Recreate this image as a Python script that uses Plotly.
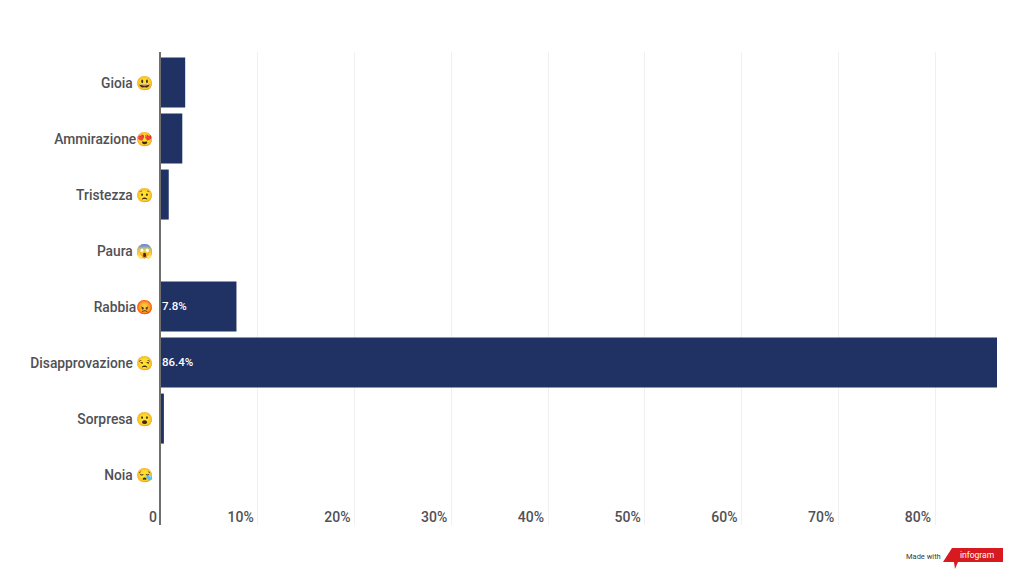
import plotly.graph_objects as go

categories = ["Gioia 😃", "Ammirazione😍", "Tristezza 😟", "Paura 😱",
              "Rabbia😡", "Disapprovazione 😒", "Sorpresa 😮", "Noia 😪"]
values = [2.5, 2.2, 0.8, 0.0, 7.8, 86.4, 0.3, 0.0]
labels = ["", "", "", "", "7.8%", "86.4%", "", ""]
tick_vals = [10, 20, 30, 40, 50, 60, 70, 80]
tick_text = ["10%", "20%", "30%", "40%", "50%", "60%", "70%", "80%"]

W, H = 1024, 577
L, R, T, B = 161, 997, 52, 525


def px(x):
    return (x - L) / (R - L)


def py(y):
    return (B - y) / (B - T)


GREY = "#505055"
fig = go.Figure(go.Bar(
    y=categories, x=values, orientation="h", width=0.893,
    marker=dict(color="#203164", line_width=0),
))
fig.update_layout(
    width=W, height=H, autosize=False,
    paper_bgcolor="#ffffff", plot_bgcolor="#ffffff",
    margin=dict(l=L, r=W - R, t=T, b=H - B),
    showlegend=False,
    font=dict(family="Roboto", color=GREY),
)
fig.update_xaxes(
    range=[0, 86.4], tickvals=tick_vals, ticktext=tick_text,
    ticklabelposition="inside left", ticklabelshift=-4, ticklabelstandoff=-6,
    tickfont=dict(family="Roboto", size=14, color=GREY, weight=500),
    showgrid=True, gridcolor="#f0f0f0", gridwidth=1, zeroline=False,
    showline=False, ticks="",
)
fig.update_yaxes(
    type="category", categoryorder="array", categoryarray=categories,
    range=[7.9, -0.545],
    ticklabelstandoff=3, ticklabelshift=-1,
    tickfont=dict(family="Roboto", size=13.8, color=GREY, weight=500),
    showline=True, linecolor="#6f6f6f", linewidth=2, ticks="", ticklen=0,
    showgrid=False, zeroline=False,
)
for cat, lab in zip(categories, labels):
    if lab:
        fig.add_annotation(text=lab, x=0, y=cat, xanchor="left", yanchor="middle",
                           xshift=-1, yshift=1, showarrow=False,
                           font=dict(family="Roboto", size=11.5, color="#ffffff", weight=500))
fig.add_annotation(text="0", xref="paper", yref="paper", x=px(157), y=py(517),
                   xanchor="right", yanchor="middle", showarrow=False,
                   font=dict(family="Roboto", size=14, color=GREY, weight=500),
                   borderpad=0, borderwidth=0)
logo = [(943, 562), (952, 548), (1003, 548), (1003, 562), (958, 562), (955, 569), (954, 562)]
path = "M " + " L ".join(f"{px(a):.5f} {py(b):.5f}" for a, b in logo) + " Z"
fig.add_shape(type="path", xref="paper", yref="paper", path=path,
              fillcolor="#d61a1f", line_width=0)
fig.add_annotation(text="infogram", xref="paper", yref="paper", x=px(976.5), y=py(555),
                   xanchor="center", yanchor="middle", showarrow=False,
                   font=dict(family="Roboto", size=8.5, color="#ffffff"))
fig.add_annotation(text="Made with", xref="paper", yref="paper", x=px(923.5), y=py(556),
                   xanchor="center", yanchor="middle", showarrow=False,
                   font=dict(family="Roboto", size=7.5, color="#3a3a3a"))
fig.write_html("out.html", config={"displayModeBar": False},
               post_script="document.body.style.margin='0';")
